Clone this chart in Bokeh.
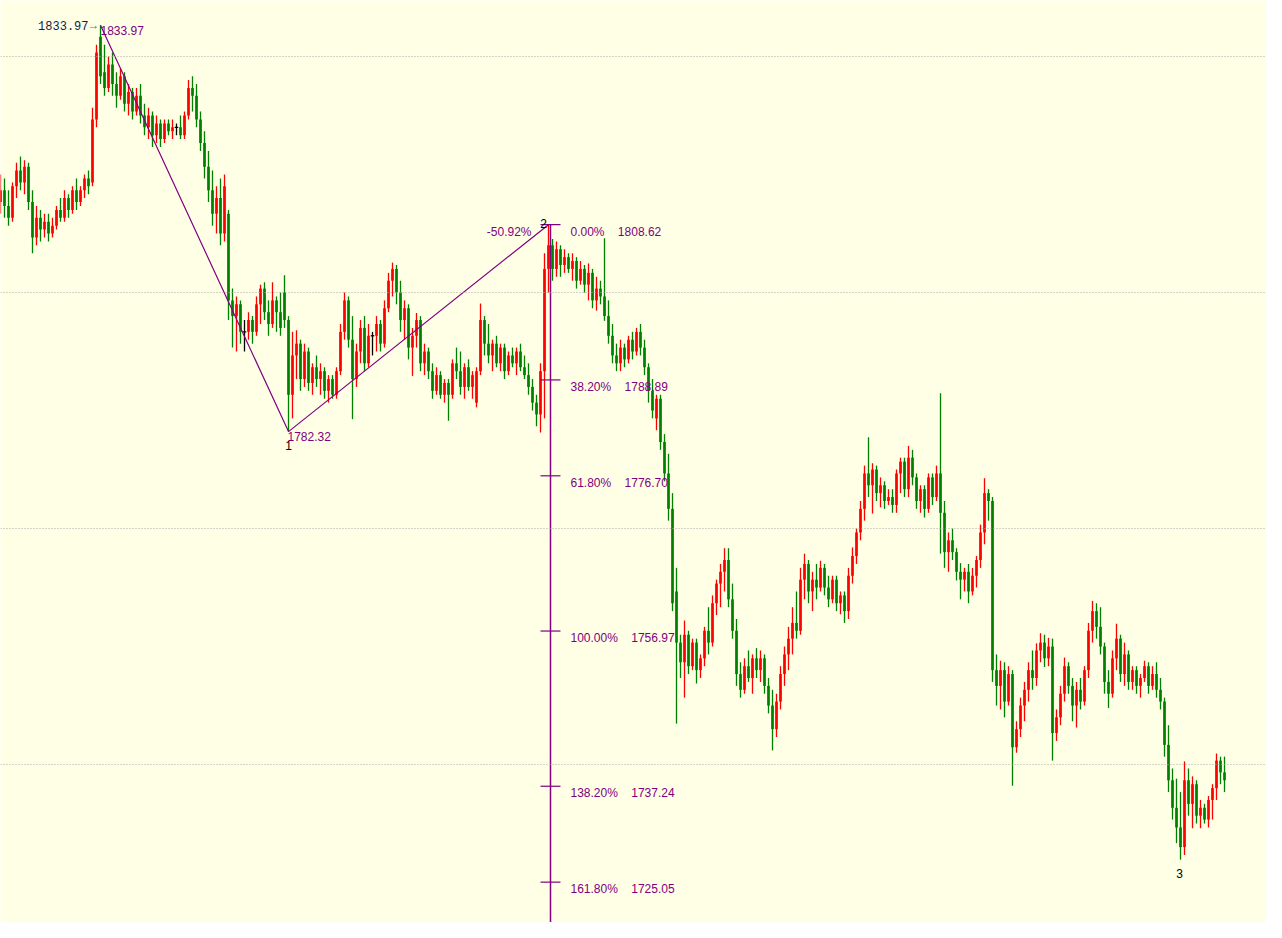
from bokeh.plotting import figure
from bokeh.models import Range1d, Span
from bokeh.core.properties import value
from bokeh.embed import file_html
from bokeh.resources import INLINE

# ---------------- data ----------------
bar_open = [
 1811.5,1813,1811,1809.5,1813.5,1815.5,1814,1816,1811.5,1807,
 1809.5,1808,1809,1807.5,1808.5,1810.5,1809.5,1812,1810.5,1813,
 1811.5,1813,1814.5,1814,1822,1832.5,1828,1826,1829,1826.5,
 1825,1827.5,1824,1825.5,1823,1825,1822.5,1821,1822.5,1820,
 1821.5,1819.5,1821.5,1820.5,1821,1821,1820,1822.5,1826,1825,
 1822,1819,1816,1813,1810,1812,1807.5,1810,1799,1797,
 1798.5,1795,1795,1796.5,1795,1798.5,1800.5,1797.5,1796,1799,
 1797.5,1800,1796.5,1787,1792,1793.5,1789,1792.5,1788.5,1790.5,
 1789,1790,1787.5,1789,1787,1790,1795,1799,1794,1789,
 1792.5,1795.5,1791,1794.5,1794.5,1796,1793.5,1798,1801.5,1803,
 1800,1796.5,1798,1793,1794.5,1796.5,1791,1792.5,1790,1787.5,
 1789.5,1787,1788.5,1787,1791,1790,1788,1790.5,1788,1786,
 1790,1796.5,1793.5,1792,1793.5,1791,1793,1790,1792,1791,
 1792.5,1790.5,1789.5,1788,1786,1784.5,1790,1803,1806,1803,
 1805.5,1803.5,1804.5,1803,1804,1801.5,1803,1801,1802.5,1799,
 1800.5,1799.5,1797,1794.5,1792,1791,1793,1791.5,1794,1792.5,
 1795,1793,1790.5,1787.5,1784,1786.5,1781,1777,1772.5,1762,
 1755.5,1753,1756.5,1752.5,1755.5,1752,1753.5,1757,1755.5,1760.5,
 1763,1764.5,1766,1761,1757,1751.5,1749.5,1752.5,1751,1753.5,
 1752,1753.5,1750,1747.5,1744.5,1748,1751.5,1754,1756,1758,
 1757,1763.5,1765.5,1762,1763.5,1762.5,1765,1762.5,1761,1763.5,
 1760.5,1761.5,1759.5,1764,1766.5,1769.5,1772.5,1777,1775.5,1777.5,
 1774.5,1775.5,1773.5,1774,1773,1777,1778.5,1775,1779,1776.5,
 1773.5,1775,1772.5,1776.5,1774,1777,1772,1767,1768.5,1767,
 1764.5,1763.5,1764.5,1762,1764,1766,1769.5,1774.5,1773.5,1752,
 1750,1752,1748,1751.5,1742.2,1744.5,1747.5,1749.5,1752,1751,
 1754.5,1755.5,1753.5,1755,1744,1746,1749,1752.5,1750,1747.5,
 1749.5,1748,1752,1757,1759.5,1757.5,1755,1750.5,1749,1753.5,
 1756,1751.5,1754,1750.5,1752,1750,1751,1752.5,1750,1751.5,
 1749.5,1748,1742.5,1738,1734.5,1732,1729.5,1738,1735,1737.5,
 1733.5,1734.5,1733,1735.5,1737,1740.5,1739,
]
bar_high = [
 1815,1814.5,1813,1814,1816.5,1817.3,1816.8,1816.5,1813,1811,
 1810.5,1810,1810,1809.5,1811,1812,1813,1812.5,1813.5,1814.5,
 1813.5,1815,1815.5,1823.5,1831.5,1833.97,1831.5,1830,1830.5,1828,
 1828.5,1828,1826.5,1826,1826,1826.5,1824,1823.5,1823,1822.5,
 1822,1822,1822,1822,1821.5,1822.5,1823,1827,1827.5,1826.5,
 1823,1820.5,1818,1815.5,1813.5,1814.5,1815,1810.5,1800.5,1799.5,
 1799,1796.5,1797.5,1797,1799.5,1801,1801.3,1799,1801.3,1799.5,
 1800,1802.2,1797,1795,1795.2,1794,1793.5,1793,1791,1792,
 1791,1790.5,1789.5,1789.5,1790.5,1796,1800,1799.5,1797,1793.5,
 1796.5,1797,1796,1795,1797,1796.5,1799,1802.5,1803.8,1803.5,
 1801.5,1799,1798.5,1795.5,1797.4,1797,1793.5,1793,1791,1790.5,
 1790,1789,1789,1791.5,1793,1792.5,1791,1791.5,1790,1790.5,
 1798.6,1797,1796,1794,1794.5,1793.5,1793.5,1792.5,1793,1793,
 1793.5,1792,1791,1789,1787,1791,1805,1808.62,1806.8,1806.5,
 1806,1805.5,1805,1805,1804.5,1804,1803.5,1803.7,1803,1802,
 1801.5,1806.9,1799,1796,1793.5,1794,1793.5,1794.5,1795,1795.5,
 1796,1794,1791,1789,1787,1787,1782,1779.5,1774.5,1765,
 1756.5,1758.3,1757,1756,1756,1754,1757.5,1760,1761.5,1763.5,
 1765.5,1767.5,1767.5,1763,1758.5,1753,1753.5,1754.5,1754,1754.8,
 1754.5,1754,1751,1749.5,1749,1752.5,1755,1757.5,1760,1762,
 1765,1766.8,1766,1764.5,1765.5,1765.9,1765.5,1764,1764,1764,
 1762,1762,1765,1767.6,1770,1773.5,1778,1781.6,1778.3,1778,
 1776.5,1776,1775,1775,1777.5,1779,1779,1780.5,1780,1777,
 1775.5,1775.5,1777,1777,1778,1787.2,1773.5,1769.5,1770,1767.5,
 1765.6,1765,1765.5,1765,1766.5,1770.5,1776.4,1775,1774,1754,
 1753.2,1753,1752.5,1752,1745.5,1748.5,1750.5,1753,1754.5,1755.4,
 1756.7,1756.5,1756.1,1756,1747,1750,1753.6,1753,1751,1750.5,
 1751,1752.5,1758,1760.8,1760.5,1760,1755.5,1752,1754.5,1757.9,
 1756.5,1755.5,1754.5,1752.5,1752.5,1751.5,1753.2,1753,1752.5,1753,
 1751,1748.5,1745,1739.5,1738.2,1736.5,1740.4,1739.5,1738.5,1738,
 1735.5,1735,1736,1737.5,1741.4,1741,1741,
]
bar_low = [
 1810,1809.5,1808.5,1809,1812,1813,1812.5,1810.5,1805,1806,
 1806.5,1807,1806.5,1807,1808,1809,1809,1809.5,1810,1810.5,
 1811,1812,1812.5,1813.5,1821,1826.5,1825,1825.5,1825,1823.5,
 1824.5,1823,1822.5,1822,1822.5,1821.5,1820,1819.5,1818.5,1819,
 1818.5,1819,1820,1819.5,1820,1819.5,1819.5,1822,1823,1821,
 1818,1814.5,1811.5,1808.5,1807.5,1806,1806.5,1796.5,1793,1792.5,
 1793.5,1792.5,1794,1793.5,1794.5,1796,1796.5,1794.5,1795.5,1795,
 1794.5,1795.5,1782.32,1784,1789,1787.5,1788,1787.5,1787,1788,
 1787,1786.5,1786,1786.5,1786.5,1789.5,1794,1793,1783.9,1788,
 1791,1790,1790.5,1792,1792.5,1792.5,1793,1797.5,1799.5,1798.5,
 1795,1794,1791.5,1789.4,1793,1790,1789.5,1789,1786.5,1787,
 1786.5,1786,1783.7,1786.5,1789,1787,1786.5,1787.5,1786.5,1785.4,
 1789.5,1792,1791,1790,1790.5,1790,1789,1789.5,1790.5,1789.5,
 1790,1789,1787,1785,1783,1782.2,1784,1800,1801.5,1802,
 1802,1802.5,1802.5,1801.5,1800.5,1801,1800,1799,1798,1797.7,
 1798.5,1796.4,1793.5,1791,1790,1790,1790.5,1791,1791.5,1792,
 1792,1789.5,1786,1784,1782.5,1780,1776,1771,1759.5,1745.2,
 1751,1748.5,1751.5,1752,1750.3,1751,1752.5,1754,1755,1759,
 1760,1762,1760,1756,1750,1748.5,1749,1750.5,1749,1751,
 1750.5,1749,1746.5,1741.8,1743.5,1747,1750,1752,1754,1756,
 1756.5,1761,1760.5,1759.5,1761,1762,1761.5,1760,1760.5,1759.5,
 1759.1,1758,1758.5,1763,1765.5,1768.5,1771,1774,1771.9,1773.5,
 1772.7,1772.5,1773,1772,1772,1774.5,1774,1774,1775.5,1772.5,
 1772,1771.4,1772,1773,1773.5,1766.8,1765,1764.5,1766,1763.4,
 1761,1762,1760.5,1761.5,1762.5,1765,1768,1771,1750.5,1747.5,
 1747,1746,1747.5,1737.3,1741.5,1743.5,1745.5,1748,1749.5,1750,
 1753,1752.4,1752.5,1740.5,1743,1745,1748,1749,1745.5,1744.7,
 1747,1747.5,1751,1755.5,1756,1754,1749,1747.2,1748.5,1752,
 1750.5,1750,1749.5,1749.5,1749,1748.5,1750.5,1749,1749.5,1748.5,
 1747,1741,1736.5,1733,1730,1727.9,1728.5,1733.5,1731.9,1732.5,
 1731.9,1732.5,1732,1733,1735.5,1737.5,1736.5,
]
bar_close = [
 1813,1811,1809.5,1813.5,1815.5,1814,1816,1811.5,1807,1809.5,
 1808,1809,1807.5,1808.5,1810.5,1809.5,1812,1810.5,1813,1811.5,
 1813,1814.5,1813.5,1822,1830.5,1827.5,1826,1829,1826.5,1825,
 1827.5,1824,1825.5,1823,1825,1822.5,1821,1822.5,1820,1821.5,
 1819.5,1821.5,1820.5,1821,1821,1820,1822.5,1826,1825,1822,
 1819,1816,1813,1810,1812,1807.5,1813.5,1799,1797,1798.5,
 1795,1795,1796.5,1795,1798.5,1800.5,1797.5,1796,1799,1797.5,
 1795.5,1796.5,1787,1792,1793.5,1789,1792.5,1788.5,1790.5,1789,
 1790,1787.5,1789,1787,1790,1795,1799,1794,1789,1792.5,
 1795.5,1791,1794.5,1794.5,1796,1793.5,1798,1801.5,1803,1800,
 1796.5,1798,1793,1794.5,1796.5,1791,1792.5,1790,1787.5,1789.5,
 1787,1788.5,1787,1791,1790,1788,1790.5,1788,1789.5,1790,
 1796.5,1793.5,1792,1793.5,1791,1793,1790,1792,1791,1792.5,
 1790.5,1789.5,1788,1786,1784.5,1790,1803,1806,1803,1805.5,
 1803.5,1804.5,1803,1804,1801.5,1803,1801,1802.5,1799,1800.5,
 1799.5,1797,1794.5,1792,1791,1793,1791.5,1794,1792.5,1795,
 1793,1790.5,1787.5,1785,1786.5,1781,1777,1772.5,1760.5,1755.5,
 1753,1756.5,1752.5,1755.5,1752,1753.5,1757,1755.5,1760.5,1763,
 1764.5,1766,1761,1757,1751.5,1749.5,1752.5,1751,1753.5,1752,
 1753.5,1750,1747.5,1744.5,1748,1751.5,1754,1756,1758,1757,
 1763.5,1765.5,1762,1763.5,1762.5,1765,1762.5,1761,1763.5,1760.5,
 1761.5,1759.5,1764,1766.5,1769.5,1772.5,1777,1775.5,1777.5,1774.5,
 1775.5,1773.5,1774,1773,1777,1778.5,1775,1779,1776.5,1773.5,
 1775,1772.5,1776.5,1774,1777,1772,1767,1768.5,1767,1764.5,
 1763.5,1764.5,1762,1764,1766,1769.5,1774.5,1773.5,1752,1750,
 1752,1748,1751.5,1742.2,1744.5,1747.5,1749.5,1752,1751,1754.5,
 1755.5,1753.5,1755,1744,1746,1749,1752.5,1750,1747.5,1749.5,
 1748,1752,1757,1759.5,1757.5,1755,1750.5,1749,1753.5,1756,
 1751.5,1754,1750.5,1752,1750,1751,1752.5,1750,1751.5,1749.5,
 1748,1742.5,1738,1734.5,1732,1729.5,1738,1735,1737.5,1733.5,
 1734.5,1733,1735.5,1737,1740.5,1739,1738,
]

# zigzag swing points: bar index and price
zig_idx = [25, 72, 137]
zig_price = [1833.97, 1782.32, 1808.62]
zig_names = ["", "1", "2"]

# Fibonacci expansion ratios
fib_ratios = [0.0, 0.382, 0.618, 1.0, 1.382, 1.618]

# horizontal grid levels
grid_levels = [1740, 1770, 1800, 1830]

# lowest point label
low3_idx = 295

# ---------------- styling ----------------
BG = "#FFFFE6"
UP = "#FF0000"
DOWN = "#008000"
PURPLE = "#800080"
FONT = value("Liberation Sans")
NBSP = "\u00a0"

n = len(bar_close)
idx = list(range(n))
colors = []
for o, c in zip(bar_open, bar_close):
    colors.append(UP if c > o else (DOWN if c < o else "#000000"))

p = figure(width=1266, height=922, output_backend="svg", toolbar_location=None,
           x_range=Range1d(0, 316.5), y_range=Range1d(1719.92, 1837.12),
           x_axis_location=None, y_axis_location=None,
           background_fill_color=BG, border_fill_color=BG, min_border=0)
p.grid.visible = False
p.outline_line_color = None

for lv in grid_levels:
    p.add_layout(Span(location=lv, dimension="width", line_color="#A8A8A8",
                      line_dash="1 2", line_width=1))

# candles
p.segment(x0=idx, y0=bar_low, x1=idx, y1=bar_high, line_color=colors, line_width=1.3)
body_x = [i for i in idx if bar_open[i] != bar_close[i]]
p.segment(x0=body_x, y0=[bar_open[i] for i in body_x], x1=body_x,
          y1=[bar_close[i] for i in body_x], line_color=[colors[i] for i in body_x],
          line_width=2.7)
doji = [i for i in idx if bar_open[i] == bar_close[i]]
p.segment(x0=[i - 0.45 for i in doji], x1=[i + 0.45 for i in doji],
          y0=[bar_open[i] for i in doji], y1=[bar_open[i] for i in doji],
          line_color="#000000", line_width=1.3)

# zigzag
p.line(zig_idx, zig_price, line_color=PURPLE, line_width=1.2)

# fibonacci expansion
rng = zig_price[0] - zig_price[1]
fib_x = zig_idx[2] + 0.5
fib_levels = [zig_price[2] - r * rng for r in fib_ratios]
p.segment(x0=[fib_x], y0=[p.y_range.start], x1=[fib_x], y1=[zig_price[2]],
          line_color=PURPLE, line_width=1.5)
p.segment(x0=[fib_x - 2.5] * len(fib_levels), x1=[fib_x + 2.5] * len(fib_levels),
          y0=fib_levels, y1=fib_levels, line_color=PURPLE, line_width=1.2)
fib_texts = [f"{r*100:.2f}%{NBSP*4}{lv:.2f}" for r, lv in zip(fib_ratios, fib_levels)]
p.text(x=[fib_x] * len(fib_levels), y=fib_levels, text=fib_texts, x_offset=20, y_offset=7,
       text_font=FONT, text_font_size="12px", text_color=PURPLE,
       text_align="left", text_baseline="middle")
retr = -(zig_price[2] - zig_price[1]) / rng * 100
p.text(x=[fib_x], y=[fib_levels[0]], text=[f"{retr:.2f}%"], x_offset=-19, y_offset=7,
       text_font=FONT, text_font_size="12px", text_color=PURPLE,
       text_align="right", text_baseline="middle")

# swing labels
p.text(x=[zig_idx[0]], y=[zig_price[0]], text=[f"{zig_price[0]:.2f}"], x_offset=0, y_offset=1,
       text_font=FONT, text_font_size="12px", text_color=PURPLE,
       text_align="left", text_baseline="top")
p.text(x=[zig_idx[1]], y=[zig_price[1]], text=[f"{zig_price[1]:.2f}"], x_offset=-1, y_offset=0,
       text_font=FONT, text_font_size="12px", text_color=PURPLE,
       text_align="left", text_baseline="top")
p.text(x=[zig_idx[1]], y=[zig_price[1]], text=[zig_names[1]], x_offset=0, y_offset=9,
       text_font=FONT, text_font_size="12px", text_color="#000000",
       text_align="center", text_baseline="top")
p.text(x=[zig_idx[2]], y=[zig_price[2]], text=[zig_names[2]], x_offset=-5, y_offset=-1,
       text_font=FONT, text_font_size="12px", text_color="#000000",
       text_align="center", text_baseline="alphabetic")
p.text(x=[low3_idx], y=[bar_low[low3_idx]], text=["3"], x_offset=-1, y_offset=9,
       text_font=FONT, text_font_size="12px", text_color="#000000",
       text_align="center", text_baseline="top")

# price arrow label at the high
p.text(x=[zig_idx[0]], y=[zig_price[0]], text=[f"{zig_price[0]:.2f}"], x_offset=-12, y_offset=0,
       text_font=value("Liberation Mono"), text_font_size="12px", text_color="#0B1F50",
       text_align="right", text_baseline="middle")
p.text(x=[zig_idx[0]], y=[zig_price[0]], text=["\u2192"], x_offset=-1, y_offset=0,
       text_font=FONT, text_font_size="12px", text_color="#707070",
       text_align="right", text_baseline="middle")

open("out.html", "w").write(file_html(p, INLINE))
